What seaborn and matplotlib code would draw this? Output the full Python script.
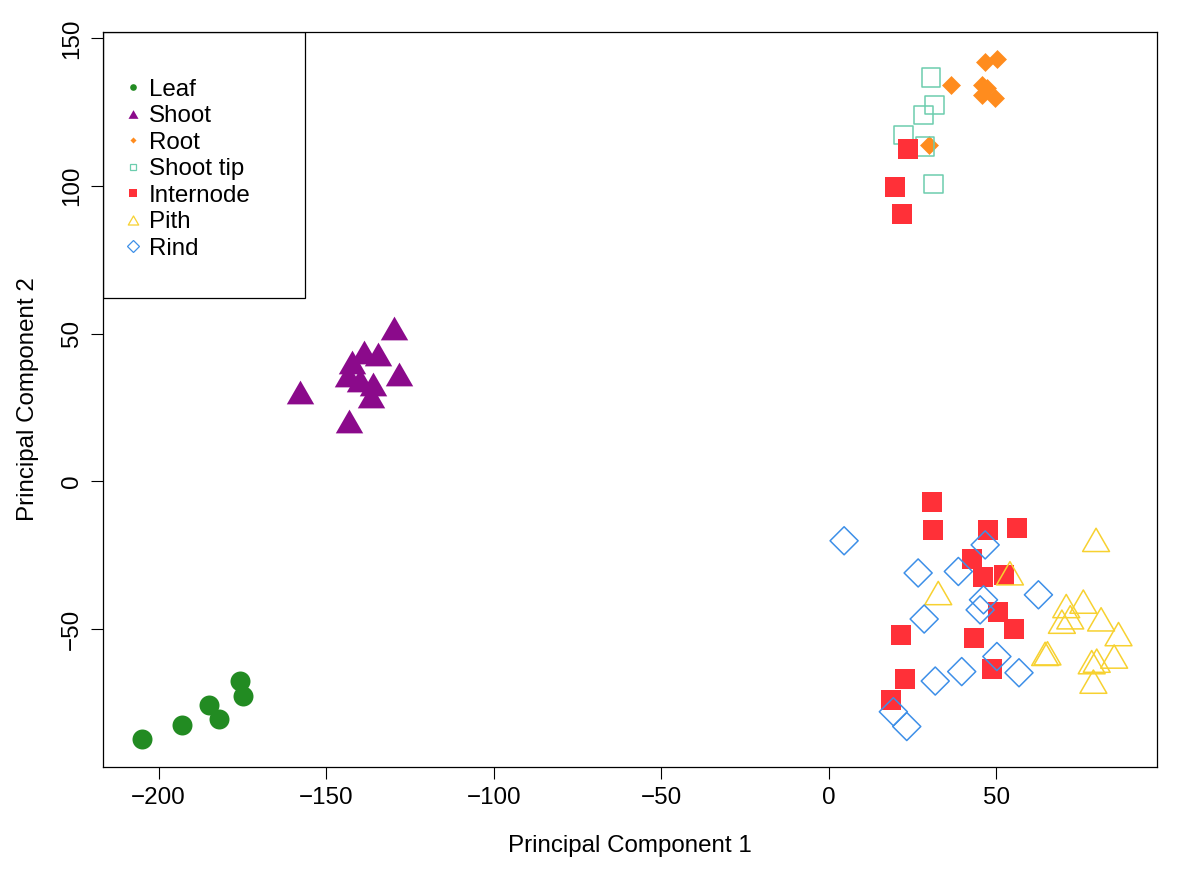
import numpy as np
import pandas as pd
import matplotlib
matplotlib.use("Agg")
import matplotlib.pyplot as plt
import seaborn as sns
from matplotlib.lines import Line2D
from matplotlib.patches import Rectangle
from matplotlib.path import Path

# ------------------------------------------------------------
# data (PC1, PC2)
# ------------------------------------------------------------
tissues = ["Leaf", "Shoot", "Root", "Shoot tip", "Internode", "Pith", "Rind"]

leaf_x = [-204.9, -193.1, -184.9, -181.9, -175.7, -174.7]
leaf_y = [-87.2, -82.5, -75.7, -80.5, -67.5, -72.5]

shoot_x = [-129.7, -157.8, -143.1, -128.2, -138.7, -134.5, -142.2, -143.4, -139.9, -136.0, -136.6]
shoot_y = [52.0, 30.4, 20.5, 36.4, 43.9, 43.0, 40.3, 36.1, 34.4, 33.0, 28.9]

root_x = [46.7, 50.2, 36.5, 45.7, 47.2, 45.7, 49.7, 29.8]
root_y = [142.0, 143.0, 134.3, 134.3, 133.2, 130.9, 129.8, 114.0]

tip_x = [30.5, 31.6, 28.3, 22.3, 28.8, 31.3]
tip_y = [136.7, 127.5, 124.1, 117.3, 113.4, 100.7]

internode_x = [23.6, 19.9, 21.8, 30.8, 31.2, 47.4, 56.2, 42.7, 46.0, 52.4, 50.6,
               55.2, 43.5, 21.6, 48.7, 22.8, 18.5]
internode_y = [112.6, 99.6, 90.6, -7.0, -16.4, -16.6, -15.7, -26.3, -32.4, -31.7, -44.2,
               -50.1, -52.9, -52.0, -63.6, -67.0, -74.0]

pith_x = [79.8, 54.1, 32.7, 70.9, 76.0, 72.1, 69.6, 81.3, 86.5, 65.3, 64.6, 78.5, 80.0, 85.2, 79.0]
pith_y = [-19.8, -31.1, -37.8, -42.2, -40.7, -46.0, -47.5, -46.7, -51.7, -58.2, -58.4,
          -61.2, -60.7, -59.3, -67.8]

rind_x = [4.6, 46.7, 38.7, 26.7, 46.2, 45.2, 28.5, 62.6, 50.2, 39.7, 31.8, 56.8, 19.3, 23.3]
rind_y = [-20.1, -21.5, -30.5, -31.0, -40.1, -43.5, -46.6, -38.4, -59.3, -64.4, -67.6,
          -64.8, -78.0, -83.0]

xs = [leaf_x, shoot_x, root_x, tip_x, internode_x, pith_x, rind_x]
ys = [leaf_y, shoot_y, root_y, tip_y, internode_y, pith_y, rind_y]

df = pd.concat(
    [pd.DataFrame({"PC1": x, "PC2": y, "tissue": t}) for t, x, y in zip(tissues, xs, ys)],
    ignore_index=True,
)

# ------------------------------------------------------------
# styles (R-like pch symbols)
# ------------------------------------------------------------
tri = Path([(-1, -0.866), (1, -0.866), (0, 0.866), (-1, -0.866)], closed=True)

colors = {
    "Leaf": "#228B22",
    "Shoot": "#8B0A8B",
    "Root": "#FF8C1E",
    "Shoot tip": "#6CCDAE",
    "Internode": "#FF3038",
    "Pith": "#F7D130",
    "Rind": "#3D8FE8",
}
markers = {"Leaf": "o", "Shoot": tri, "Root": "D", "Shoot tip": "s",
           "Internode": "s", "Pith": tri, "Rind": "D"}
filled = {"Leaf": True, "Shoot": True, "Root": True, "Shoot tip": False,
          "Internode": True, "Pith": False, "Rind": False}
sizes = {"Leaf": 207, "Shoot": 390, "Root": 93, "Shoot tip": 177,
         "Internode": 207, "Pith": 375, "Rind": 204}
leg_ms = {"Leaf": 4.8, "Shoot": 7.2, "Root": 3.1, "Shoot tip": 5.0,
          "Internode": 5.3, "Pith": 7.5, "Rind": 6.1}

sns.set_style("white")
plt.rcParams["font.family"] = ["Liberation Sans", "DejaVu Sans"]
for k in ["text.color", "axes.labelcolor", "xtick.color", "ytick.color"]:
    plt.rcParams[k] = "black"

fig = plt.figure(figsize=(12, 8.83), dpi=100)
ax = fig.add_axes([0.0858, 0.1314, 0.8784, 0.8324])

for t in tissues:
    sub = df[df["tissue"] == t]
    c = colors[t]
    if filled[t]:
        sns.scatterplot(data=sub, x="PC1", y="PC2", ax=ax, marker=markers[t],
                        color=c, s=sizes[t], linewidth=0, legend=False)
    else:
        sns.scatterplot(data=sub, x="PC1", y="PC2", ax=ax, marker=markers[t],
                        color=c, facecolor="none", edgecolor=c, s=sizes[t],
                        linewidth=1.1, legend=False)

ax.set_xlim(-216.6, 98.0)
ax.set_ylim(-96.7, 152.2)
ax.set_xticks([-200, -150, -100, -50, 0, 50])
ax.set_yticks([-50, 0, 50, 100, 150])
ax.set_xlabel("Principal Component 1", fontsize=17.4, labelpad=18.5)
ax.set_ylabel("Principal Component 2", fontsize=17.4, labelpad=16)
ax.tick_params(axis="both", direction="out", length=8.4, width=0.8, color="black",
               labelsize=17.4, pad=6, bottom=True, left=True, labelcolor="black")
for lab in ax.get_yticklabels():
    lab.set_rotation(90)
    lab.set_va("center")
for sp in ax.spines.values():
    sp.set_color("black")
    sp.set_linewidth(0.9)

# legend box (R-style, pinned to top-left corner)
ax.add_patch(Rectangle((0, 0.638), 0.1917, 0.362, transform=ax.transAxes,
                       fill=False, edgecolor="black", linewidth=0.9, zorder=5))

handles = []
for t in tissues:
    c = colors[t]
    handles.append(Line2D([], [], linestyle="none", marker=markers[t],
                          markersize=leg_ms[t],
                          markerfacecolor=c if filled[t] else "none",
                          markeredgecolor=c,
                          markeredgewidth=0 if filled[t] else 0.9))
ax.legend(handles, tissues, loc="upper left", bbox_to_anchor=(0.0215, 0.9363),
          frameon=False, fontsize=17.4, borderpad=0, borderaxespad=0,
          handlelength=0.6, handletextpad=0.36, labelspacing=0.186)

fig.savefig("out.png", dpi=100)
